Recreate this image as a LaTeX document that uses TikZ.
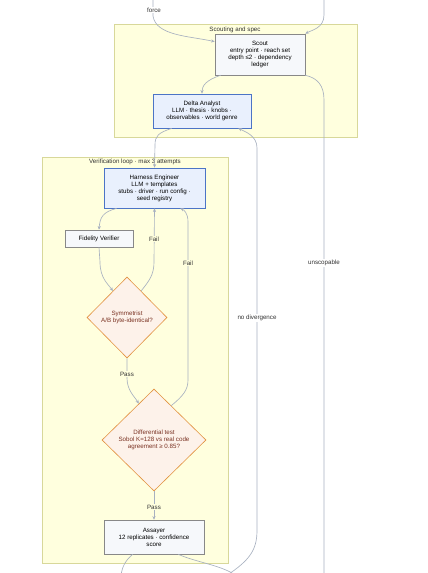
\documentclass[tikz,border=0pt]{standalone}
\usepackage{fontspec}
\setmainfont{Liberation Sans}
\usetikzlibrary{arrows.meta,shapes.geometric,calc}
\definecolor{clusfill}{HTML}{FFFFDE}
\definecolor{clusline}{HTML}{D8D89A}
\definecolor{plainfill}{HTML}{F6F8FB}
\definecolor{plainline}{HTML}{888888}
\definecolor{llmfill}{HTML}{E9F0FD}
\definecolor{llmline}{HTML}{4C74C6}
\definecolor{gatefill}{HTML}{FDF2EA}
\definecolor{gateline}{HTML}{E2913F}
\definecolor{gatetext}{HTML}{7A3222}
\definecolor{edgecol}{HTML}{A8B1C0}
\definecolor{labtext}{HTML}{333333}
\begin{document}
\begin{tikzpicture}[x=1pt,y=-1pt,
  >={Stealth[length=3.6pt,width=3.2pt]},
  every node/.style={font=\fontsize{6.2}{7}\selectfont,align=center},
  plain/.style={draw=plainline,fill=plainfill,line width=0.6pt,inner sep=1pt},
  llm/.style={draw=llmline,fill=llmfill,line width=0.7pt,inner sep=1pt},
  gate/.style={diamond,aspect=1,draw=gateline,fill=gatefill,line width=0.6pt,inner sep=0pt,text=gatetext},
  link/.style={draw=edgecol,line width=0.65pt},
  elabel/.style={text=labtext,inner sep=1pt},
  cluster/.style={draw=clusline,fill=clusfill,line width=0.6pt}]
\useasboundingbox (0,0) rectangle (428,573);

% clusters
\draw [cluster] (114,24) rectangle (357,137);
\node [elabel] (cscout) at (235,29.5) {Scouting and spec};
\draw [cluster] (42,157) rectangle (228,563);
\node [elabel] (cverif) at (135,162) {Verification loop · max 3 attempts};

% nodes
\node [plain,minimum width=90pt,minimum height=41pt] (scout) at (260,54.5) {Scout\\entry point · reach set\\depth ≤2 · dependency\\ledger};
\node [llm,minimum width=98pt,minimum height=34pt] (delta) at (202,111) {Delta Analyst\\LLM · thesis · knobs ·\\observables · world genre};
\node [llm,minimum width=101pt,minimum height=40pt] (harness) at (154.5,188) {Harness Engineer\\LLM + templates\\stubs · driver · run config ·\\seed registry};
\node [plain,minimum width=68pt,minimum height=17pt] (fidelity) at (99,238.5) {Fidelity Verifier};
\node [gate,minimum width=80pt,minimum height=81pt] (sym) at (127,317.5) {Symmetrist\\A/B byte-identical?};
\node [gate,minimum width=104pt,minimum height=102pt] (diff) at (154,440) {Differential test\\Sobol K=128 vs real code\\agreement ≥ 0.85?};
\node [plain,minimum width=100pt,minimum height=34pt] (assayer) at (154,537) {Assayer\\12 replicates · confidence\\score};

% free ends off the page
\coordinate (topforce) at (153,-3);
\coordinate (topright) at (324,-3);
\coordinate (botunsc) at (324,576);
\coordinate (botdiv) at (226,576);
\coordinate (botleft) at (121,576);
\coordinate (botright) at (236,576);

% connectors
\draw [link,->] (topforce) -- (153,16) .. controls (156,36) and (190,36) .. ($(scout.north west)+(0,8)$);
\draw [link,->] (topright) -- (324,15) .. controls (324,28) and (312,30) .. (scout.north east);
\draw [link,->] ($(scout.south west)+(6,0)$) .. controls (206,80) and (202,86) .. (delta.north);
\draw [link] (scout.south east) .. controls (318,78) and (324,86) .. (324,100) -- (botunsc);
\draw [link,->] ($(delta.south west)+(19,0)$) .. controls (158,133) and (155,136) .. (155,145) -- (harness.north);
\draw [link,->] (botdiv) .. controls (250,560) and (257,550) .. (257,530) -- (257,148) .. controls (257,136) and (246,132) .. ($(delta.south east)+(-13,0)$);
\draw [link,->] ($(harness.south west)+(13,0)$) .. controls (103,212) and (100,217) .. (fidelity.north);
\draw [link,->] (fidelity.south) -- (100,262) .. controls (100,278) and (108,284) .. ($(sym.north)!0.35!(sym.west)$);
\draw [link,->] ($(sym.north)!0.35!(sym.east)$) .. controls (149,281) and (154,275) .. (154,262) -- (harness.south);
\draw [link,->] ($(diff.north)!0.33!(diff.east)$) .. controls (183,396) and (188,390) .. (188,380) -- (188,222) .. controls (188,213) and (184,210) .. ($(harness.south east)+(-25,0)$);
\draw [link,->] (sym.south) -- (127,378) .. controls (127,390) and (134,396) .. ($(diff.north)!0.29!(diff.west)$);
\draw [link,->] (diff.south) -- (assayer.north);
\draw [link] ($(assayer.south west)+(29,0)$) .. controls (126,560) and (122,566) .. (botleft);
\draw [link] ($(assayer.south east)+(-26,0)$) .. controls (195,562) and (225,566) .. (botright);

% edge labels
\node [elabel,fill=white] (lforce) at (154,10) {force};
\node [elabel,fill=white] (lunsc) at (324,263) {unscopable};
\node [elabel,fill=white] (ldiv) at (257,318) {no divergence};
\node [elabel,fill=clusfill] (lfail1) at (154,239) {Fail};
\node [elabel,fill=clusfill] (lfail2) at (188,263) {Fail};
\node [elabel,fill=clusfill] (lpass1) at (127,374) {Pass};
\node [elabel,fill=clusfill] (lpass2) at (154,507) {Pass};

\end{tikzpicture}
\end{document}
